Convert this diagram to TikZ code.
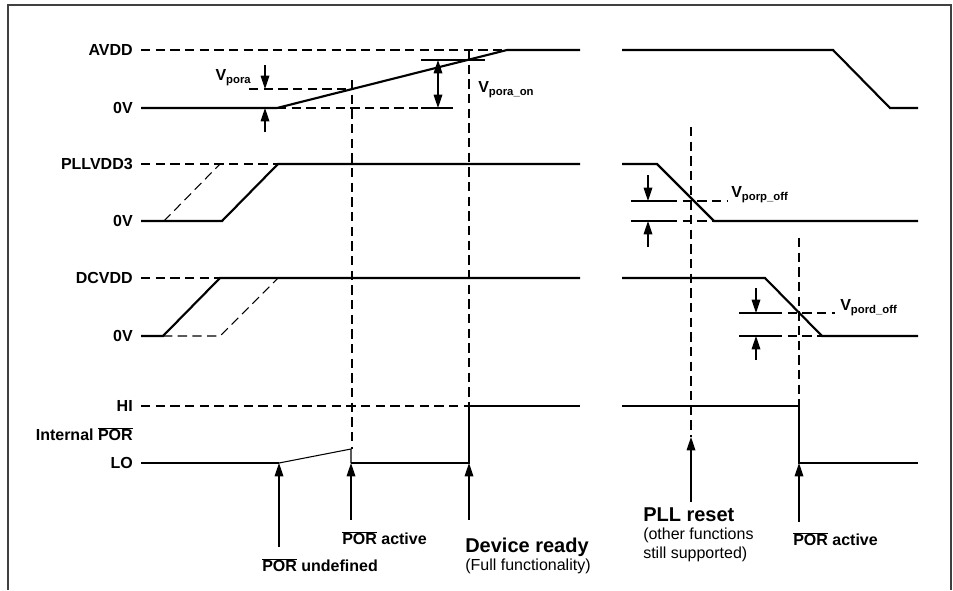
\documentclass[tikz,border=0pt]{standalone}
\usepackage{fontspec}
\setmainfont{Liberation Sans}
\usetikzlibrary{arrows.meta}
\newcommand{\nPOR}{$\overline{\mbox{POR}}$}
\newcommand{\vth}[1]{V\raisebox{-0.35ex}{\fontsize{8.5}{9}\selectfont #1}}

\begin{document}
\begin{tikzpicture}[
    x=0.75pt, y=-0.75pt,
    font=\fontsize{12}{14.5}\selectfont\bfseries,
    lvl/.style={anchor=east, inner sep=0pt},
    thr/.style={inner sep=0pt},
    sig/.style={line width=1.6pt, line join=miter},
    guide/.style={line width=0.8pt, dash pattern=on 7pt off 4pt},
    tick/.style={line width=0.8pt},
    pin/.style={line width=0.9pt, -{Triangle[length=10pt,width=6.5pt]}},
    pins/.style={line width=0.9pt, {Triangle[length=10pt,width=6.5pt]}-{Triangle[length=10pt,width=6.5pt]}}
  ]
  \useasboundingbox (0,0) rectangle (953,590);
  \draw[line width=1.2pt, black!75] (8,590) -- (8,5) -- (951,5) -- (951,590);

  % level labels
  \node (avdd) [lvl] at (133,50) {AVDD};
  \node (a0) [lvl] at (133,108) {0V};
  \node (pll) [lvl] at (133,164) {PLLVDD3};
  \node (p0) [lvl] at (133,221) {0V};
  \node (dc) [lvl] at (133,278) {DCVDD};
  \node (d0) [lvl] at (133,336) {0V};
  \node (hi) [lvl] at (133,406) {HI};
  \node (ipor) [lvl] at (133,434) {Internal \nPOR};
  \node (lo) [lvl] at (133,463) {LO};

  % event instants
  \coordinate (tundef) at (279,463);
  \coordinate (tact) at (351,463);
  \coordinate (tready) at (469,463);
  \coordinate (tpll) at (691,437);
  \coordinate (toff) at (799,463);

  % AVDD
  \draw[guide] (141,50) -- (507,50);
  \draw[sig] (141,108) -- (277,108) -- (507,50) -- (580,50);
  \draw[sig] (622,50) -- (833,50) -- (890,108) -- (918,108);
  \draw[guide] (249,89) -- (352,89);
  \draw[guide] (277,108) -- (421,108);
  \draw[tick] (421,108) -- (453,108);
  \draw[tick] (421,60) -- (485,60);
  \draw[pin] (265,65) -- (265,89);
  \draw[pin] (265,132) -- (265,108);
  \draw[pins] (438,60) -- (438,108);
  \node (vpora) [thr, anchor=east] at (251,78) {\vth{pora}};
  \node (vporaon) [thr, anchor=west] at (478,90) {\vth{pora\_on}};

  % PLLVDD3
  \draw[guide] (141,164) -- (278,164);
  \draw[guide] (164,221) -- (220,164);
  \draw[sig] (141,221) -- (222,221) -- (278,164) -- (580,164);
  \draw[sig] (622,164) -- (657,164) -- (714,221) -- (918,221);
  \draw[tick] (631,201) -- (668,201);
  \draw[guide] (668,201) -- (727,201);
  \draw[tick] (631,221) -- (668,221);
  \draw[guide] (668,221) -- (714,221);
  \draw[pin] (648,175) -- (648,201);
  \draw[pin] (648,247) -- (648,221);
  \node (vporp) [thr, anchor=west] at (731,195) {\vth{porp\_off}};

  % DCVDD
  \draw[guide] (141,278) -- (220,278);
  \draw[guide] (163,336) -- (220,336) -- (278,278);
  \draw[sig] (141,336) -- (163,336) -- (220,278) -- (580,278);
  \draw[sig] (622,278) -- (765,278) -- (822,336) -- (918,336);
  \draw[tick] (739,313) -- (773,313);
  \draw[guide] (773,313) -- (835,313);
  \draw[tick] (739,336) -- (773,336);
  \draw[guide] (773,336) -- (822,336);
  \draw[pin] (756,288) -- (756,313);
  \draw[pin] (756,360) -- (756,336);
  \node (vpord) [thr, anchor=west] at (840,308) {\vth{pord\_off}};

  % internal POR
  \draw[guide] (141,406) -- (469,406);
  \draw[guide] (352,80) -- (352,449);
  \draw[guide] (469,50) -- (469,406);
  \draw[sig] (141,463) -- (tundef);
  \draw[tick] (tundef) -- (351,449) -- (tact);
  \draw[sig] (tact) -- (tready) -- (469,406) -- (580,406);
  \draw[guide] (691,127) -- (tpll);
  \draw[guide] (799,238) -- (799,406);
  \draw[sig] (622,406) -- (799,406) -- (toff) -- (918,463);

  % events
  \draw[pin] (279,547) -- (tundef);
  \draw[pin] (351,520) -- (tact);
  \draw[pin] (469,520) -- (tready);
  \draw[pin] (691,502) -- (tpll);
  \draw[pin] (799,522) -- (toff);
  \node (undef) [thr, anchor=west] at (262,565) {\nPOR{} undefined};
  \node (act) [thr, anchor=west] at (342,538) {\nPOR{} active};
  \node (ready) [thr, anchor=north west, align=left] at (465,538)
    {{\fontsize{15}{18}\selectfont Device ready}\\[-1pt]
     \mdseries(Full functionality)};
  \node (pllrst) [thr, anchor=north west, align=left] at (643,507)
    {{\fontsize{15}{18}\selectfont PLL reset}\\[-1pt]
     \mdseries(other functions\\\mdseries still supported)};
  \node (act2) [thr, anchor=west] at (793,539) {\nPOR{} active};
\end{tikzpicture}
\end{document}
